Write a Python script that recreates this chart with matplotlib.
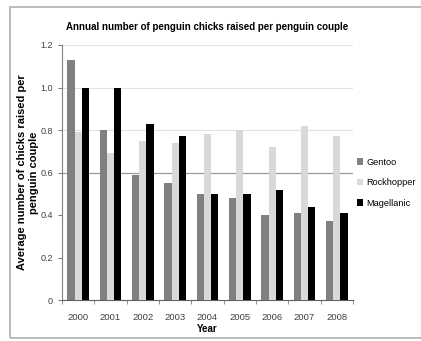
import numpy as np
import matplotlib
matplotlib.use("Agg")
import matplotlib.pyplot as plt
from matplotlib.patches import Rectangle

plt.rcParams['font.family'] = ['Liberation Sans', 'DejaVu Sans']

# data
years = ['2000', '2001', '2002', '2003', '2004', '2005', '2006', '2007', '2008']
gentoo = [1.13, 0.80, 0.59, 0.55, 0.50, 0.48, 0.40, 0.41, 0.37]
rockhopper = [0.79, 0.69, 0.75, 0.74, 0.78, 0.80, 0.72, 0.82, 0.77]
magellanic = [1.00, 1.00, 0.83, 0.77, 0.50, 0.50, 0.52, 0.44, 0.41]
yticks = [0, 0.2, 0.4, 0.6, 0.8, 1.0, 1.2]
ytick_labels = ['0', '0.2', '0.4', '0.6', '0.8', '1.0', '1.2']
faint_grid = [0.8, 1.0, 1.2]
ref_line = 0.6

fig = plt.figure(figsize=(4.21, 3.41), dpi=100)
fig.patch.set_facecolor('white')

# grey frame round the whole chart
fig.patches.append(Rectangle((10/421, 3/341), 420/421, 331/341, transform=fig.transFigure,
                             fill=False, edgecolor='#b0b0b0', linewidth=1.2))

ax = fig.add_axes([62/421, 41/341, 291/421, 255/341])

x = np.arange(len(years))
w = 0.22
ax.bar(x - w, gentoo, w, color='#808080', label='Gentoo', zorder=3)
ax.bar(x, rockhopper, w, color='#d9d9d9', label='Rockhopper', zorder=3)
ax.bar(x + w, magellanic, w, color='#000000', label='Magellanic', zorder=3)

for g in faint_grid:
    ax.axhline(g, color='#e2e2e2', linewidth=0.8, zorder=1)
ax.axhline(ref_line, color='#9a9a9a', linewidth=0.9, zorder=1)

ax.set_xlim(-0.5, len(years) - 0.5)
ax.set_ylim(0, 1.2)
ax.set_yticks(yticks)
ax.set_yticklabels(ytick_labels)
ax.set_xticks(x)
ax.set_xticklabels(years)
ax.set_xticks(np.arange(len(years) + 1) - 0.5, minor=True)
ax.tick_params(axis='x', which='major', length=0, labelsize=6.8, colors='#404040', pad=9)
ax.tick_params(axis='x', which='minor', length=3, color='#808080')
ax.tick_params(axis='y', length=3, color='#808080', labelsize=6.5, labelcolor='#404040')

for s in ['top', 'right']:
    ax.spines[s].set_visible(False)
ax.spines['left'].set_color('#808080')
ax.spines['bottom'].set_color('#606060')

ax.set_title('Annual number of penguin chicks raised per penguin couple',
             fontsize=7, fontweight='bold', pad=11)
ax.set_xlabel('Year', fontsize=7, fontweight='bold', labelpad=2)
ax.set_ylabel('Average number of chicks raised per\npenguin couple', fontsize=8,
              fontweight='bold', labelpad=1, linespacing=1.3)

ax.legend(loc='center left', bbox_to_anchor=(0.99, 0.46), frameon=False, fontsize=6.6,
          handlelength=0.7, handleheight=0.7, handletextpad=0.4, labelspacing=1.25,
          borderaxespad=0.3)

fig.savefig('out.png', dpi=100)
